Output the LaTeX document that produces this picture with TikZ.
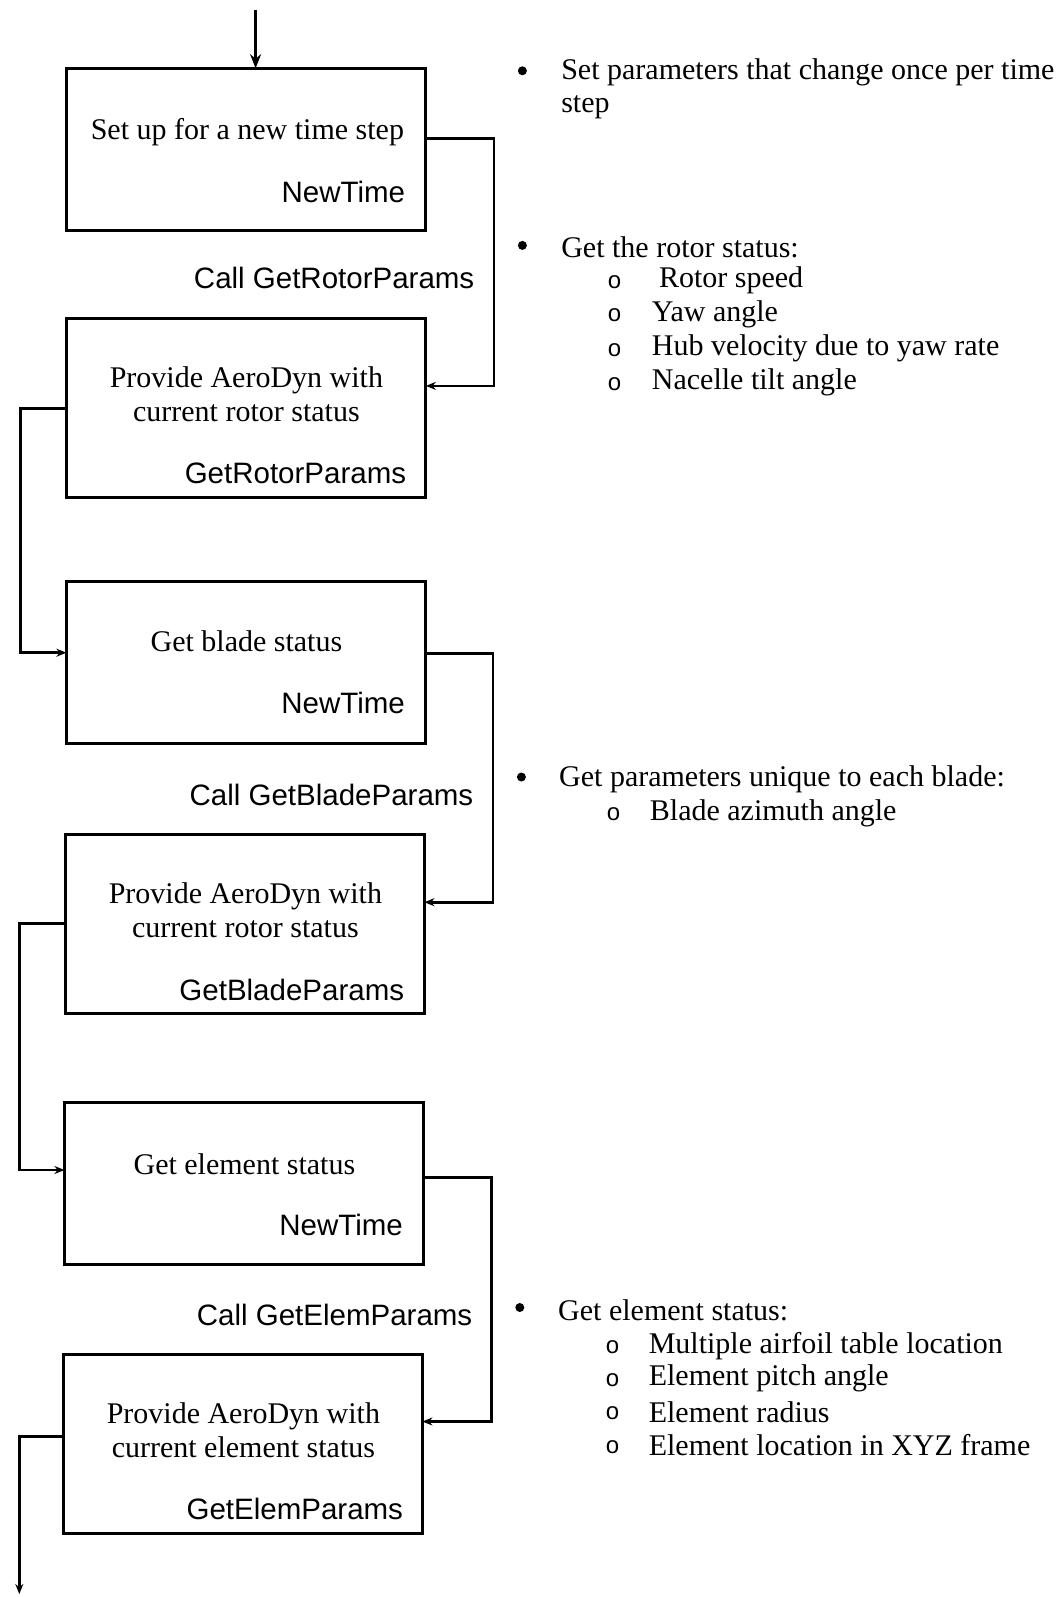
\documentclass[tikz,border=0pt]{standalone}
\usepackage{fontspec}
\setmainfont{Liberation Serif}
\newfontfamily\labelfont{Liberation Sans}
\usetikzlibrary{arrows.meta,positioning}

\tikzset{
  stepbox/.style={draw, line width=2.9pt, inner sep=0pt, outer sep=0pt, minimum width=359pt},
  shortbox/.style={stepbox, minimum height=162pt},
  tallbox/.style={stepbox, minimum height=179pt},
  boxtext/.style={align=center, inner sep=0pt, font=\fontsize{30}{33.6}\selectfont},
  fname/.style={anchor=east, inner sep=0pt, font=\labelfont\fontsize{29.5}{33}\selectfont},
  note/.style={anchor=west, align=left, inner sep=0pt, font=\fontsize{30}{33.6}\selectfont},
  dot/.style={circle, fill, inner sep=0pt, minimum size=9pt},
  ring/.style={inner sep=0pt, font=\labelfont\fontsize{24}{24}\selectfont},
  link/.style={line width=2.8pt, -{Stealth[length=10pt,width=8pt]}},
}

\begin{document}
\begin{tikzpicture}[x=1pt, y=-1pt]
    \useasboundingbox (0,0) rectangle (1058,1597);

    % flow boxes
    \node[shortbox] (b1) at (246.4,149.2) {};
    \node[tallbox] (b2) at (246.4,408.4) {};
    \node[shortbox] (b3) at (245.9,662.4) {};
    \node[tallbox] (b4) at (244.9,924.1) {};
    \node[shortbox] (b5) at (243.9,1183.8) {};
    \node[tallbox] (b6) at (242.9,1444.0) {};

    % box texts
    \node[boxtext] (t1) at (247.4,132.3) {Set up for a new time step};
    \node[fname] (f1) at (405.3,192.4) {NewTime};
    \node[boxtext] (t2) at (246.4,394.0) {Provide AeroDyn with\\current rotor status};
    \node[fname] (f2) at (406.3,473.5) {GetRotorParams};
    \node[boxtext] (t3) at (246.4,641.5) {Get blade status};
    \node[fname] (f3) at (405.0,702.6) {NewTime};
    \node[boxtext] (t4) at (245.4,910.5) {Provide AeroDyn with\\current rotor status};
    \node[fname] (f4) at (404.3,989.8) {GetBladeParams};
    \node[boxtext] (t5) at (244.4,1163.9) {Get element status};
    \node[fname] (f5) at (403.0,1225.0) {NewTime};
    \node[boxtext] (t6) at (243.4,1430.3) {Provide AeroDyn with\\current element status};
    \node[fname] (f6) at (403.2,1509.1) {GetElemParams};

    % call labels
    \node[fname] (c1) at (474.5,278.0) {Call GetRotorParams};
    \node[fname] (c2) at (473.5,795.3) {Call GetBladeParams};
    \node[fname] (c3) at (472.5,1314.6) {Call GetElemParams};

    % bend points
    \coordinate (top) at (255.6,10);
    \coordinate (r1a) at (493.9,138.5);
    \coordinate (r1b) at (493.9,385.9);
    \coordinate (l1a) at (20.4,408.3);
    \coordinate (l1b) at (20.4,652.7);
    \coordinate (r2a) at (492.9,653.7);
    \coordinate (r2b) at (492.9,902.2);
    \coordinate (l2a) at (19.3,923.6);
    \coordinate (l2b) at (19.3,1170.0);
    \coordinate (r3a) at (491.8,1177.2);
    \coordinate (r3b) at (491.8,1421.5);
    \coordinate (l3a) at (19.3,1436.8);
    \coordinate (l3b) at (19.3,1594.0);

    % connectors
    \draw[link, -{Stealth[length=14pt,width=11pt]}] (top) -- (top |- b1.north);
    \draw[link] (b1.east |- r1a) -- (r1a) -- (r1b) -- (b2.east |- r1b);
    \draw[link] (b2.west |- l1a) -- (l1a) -- (l1b) -- (b3.west |- l1b);
    \draw[link] (b3.east |- r2a) -- (r2a) -- (r2b) -- (b4.east |- r2b);
    \draw[link] (b4.west |- l2a) -- (l2a) -- (l2b) -- (b5.west |- l2b);
    \draw[link] (b5.east |- r3a) -- (r3a) -- (r3b) -- (b6.east |- r3b);
    \draw[link] (b6.west |- l3a) -- (l3a) -- (l3b);

    % notes
    \node[dot] (d1) at (522.4,70.8) {};
    \node[note] (n1) at (561.1,88.6) {Set parameters that change once per time\\step};

    \node[dot] (d2) at (522.4,245.4) {};
    \node[note] (n2) at (561.1,247.4) {Get the rotor status:};
    \node[ring] (o21) at (614.5,282.0) {o};
    \node[ring] (o22) at (614.5,315.6) {o};
    \node[ring] (o23) at (614.5,350.2) {o};
    \node[ring] (o24) at (614.5,383.8) {o};
    \node[note] (s21) at (658.8,280.5) {Rotor speed};
    \node[note] (s22) at (651.7,314.1) {Yaw angle};
    \node[note] (s23) at (651.7,348.7) {Hub velocity due to yaw rate};
    \node[note] (s24) at (651.7,382.3) {Nacelle tilt angle};

    \node[dot] (d3) at (521.4,777.0) {};
    \node[note] (n3) at (559.0,779.5) {Get parameters unique to each blade:};
    \node[ring] (o31) at (613.5,814.6) {o};
    \node[note] (s31) at (649.7,813.1) {Blade azimuth angle};

    \node[dot] (d4) at (519.8,1307.5) {};
    \node[note] (n4) at (558.0,1310.0) {Get element status:};
    \node[ring] (o41) at (612.5,1347.2) {o};
    \node[ring] (o42) at (612.5,1379.7) {o};
    \node[ring] (o43) at (612.5,1413.3) {o};
    \node[ring] (o44) at (612.5,1447.0) {o};
    \node[note] (s41) at (648.6,1345.7) {Multiple airfoil table location};
    \node[note] (s42) at (648.6,1378.2) {Element pitch angle};
    \node[note] (s43) at (648.6,1411.8) {Element radius};
    \node[note] (s44) at (648.6,1445.5) {Element location in XYZ frame};
\end{tikzpicture}
\end{document}
